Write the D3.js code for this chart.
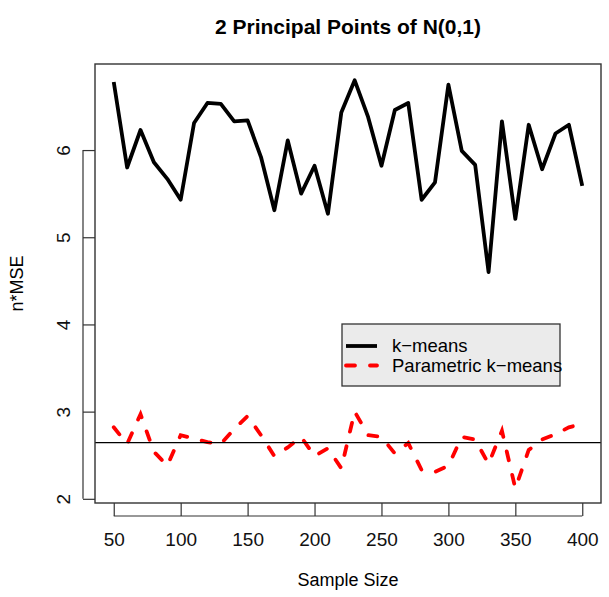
<!DOCTYPE html>
<html>
<head>
<meta charset="utf-8">
<script src="https://cdn.jsdelivr.net/npm/d3@7"></script>
<style>
	body { margin: 0; background: #fff; }
	text { font-family: "Liberation Sans", Arial, sans-serif; }
</style>
</head>
<body>
<svg id="chart" width="609" height="597"></svg>
<script>
// sample sizes 50..400
var sampleSizes = [50, 60, 70, 80, 90, 100, 110, 120, 130, 140, 150, 160, 170, 180, 190, 200, 210, 220,
	230, 240, 250, 260, 270, 280, 290, 300, 310, 320, 330, 340, 350, 360, 370, 380, 390, 400];

var kmeans = [6.78, 5.80, 6.23, 5.86, 5.67, 5.43, 6.31, 6.54, 6.53, 6.33, 6.34, 5.92, 5.31, 6.11, 5.50, 5.82, 5.27, 6.43,
	6.80, 6.38, 5.82, 6.46, 6.54, 5.43, 5.63, 6.75, 5.99, 5.83, 4.60, 6.33, 5.21, 6.29, 5.78, 6.19, 6.29, 5.59];

var paramKmeans = [2.82, 2.63, 2.97, 2.54, 2.38, 2.73, 2.69, 2.65, 2.63, 2.80, 2.95, 2.73, 2.49, 2.59, 2.71, 2.49, 2.58, 2.35,
	3.00, 2.73, 2.71, 2.52, 2.64, 2.33, 2.31, 2.38, 2.71, 2.68, 2.40, 2.78, 2.12, 2.56, 2.68, 2.74, 2.82, 2.86];

var refLine = 2.644;

var xTicks = [50, 100, 150, 200, 250, 300, 350, 400];
var yTicks = [2, 3, 4, 5, 6];

var legendLabels = ["k\u2212means", "Parametric k\u2212means"];

var svg = d3.select("#chart");

var plot = { left: 95, right: 601, top: 64, bottom: 503 };

// R style 4% padding on both ends
var x = d3.scaleLinear().domain([36, 414]).range([plot.left, plot.right]);
var y = d3.scaleLinear().domain([1.952, 6.987]).range([plot.bottom, plot.top]);

// title
svg.append("text")
	.attr("x", (plot.left + plot.right) / 2)
	.attr("y", 34)
	.attr("text-anchor", "middle")
	.attr("font-size", 21)
	.attr("font-weight", "bold")
	.text("2 Principal Points of N(0,1)");

// axes
var xAxis = svg.append("g")
	.attr("transform", "translate(0," + plot.bottom + ")")
	.call(d3.axisBottom(x).tickValues(xTicks).tickSize(13).tickPadding(17).tickSizeOuter(0));

var yAxis = svg.append("g")
	.attr("transform", "translate(" + plot.left + ",0)")
	.call(d3.axisLeft(y).tickValues(yTicks).tickFormat(d3.format("d")).tickSize(12).tickSizeOuter(0));

[xAxis, yAxis].forEach(function(a) {
	a.select(".domain").remove();
	a.selectAll("line").attr("stroke", "#333").attr("stroke-width", 1.2);
	a.selectAll("text").attr("font-size", 19).attr("fill", "#111")
		.attr("font-family", "Liberation Sans, Arial, sans-serif");
});

// R draws the axis line only between the outer ticks
xAxis.append("line")
	.attr("x1", x(xTicks[0])).attr("x2", x(xTicks[xTicks.length - 1]))
	.attr("y1", 13).attr("y2", 13)
	.attr("stroke", "#333").attr("stroke-width", 1.2);

yAxis.append("line")
	.attr("y1", y(yTicks[0])).attr("y2", y(yTicks[yTicks.length - 1]))
	.attr("x1", -12).attr("x2", -12)
	.attr("stroke", "#333").attr("stroke-width", 1.2);

yAxis.selectAll(".tick text")
	.attr("text-anchor", "middle")
	.attr("x", null)
	.attr("transform", "translate(-32,0) rotate(-90)")
	.attr("dy", "0.35em");

// axis titles
svg.append("text")
	.attr("x", (plot.left + plot.right) / 2)
	.attr("y", 586)
	.attr("text-anchor", "middle")
	.attr("font-size", 18)
	.text("Sample Size");

svg.append("text")
	.attr("transform", "translate(23," + ((plot.top + plot.bottom) / 2) + ") rotate(-90)")
	.attr("text-anchor", "middle")
	.attr("font-size", 18)
	.text("n*MSE");

// lines
var line = function(values) {
	return d3.line()
		.x(function(d, i) { return x(sampleSizes[i]); })
		.y(function(d) { return y(d); })(values);
};

svg.append("path")
	.attr("d", line(kmeans))
	.attr("fill", "none")
	.attr("stroke", "#000")
	.attr("stroke-width", 3.8)
	.attr("stroke-linejoin", "round");

svg.append("path")
	.attr("d", line(paramKmeans))
	.attr("fill", "none")
	.attr("stroke", "#ff0000")
	.attr("stroke-width", 3.8)
	.attr("stroke-linecap", "round")
	.attr("stroke-dasharray", "9,15");

// reference line
svg.append("line")
	.attr("x1", plot.left).attr("x2", plot.right)
	.attr("y1", y(refLine)).attr("y2", y(refLine))
	.attr("stroke", "#000").attr("stroke-width", 1.3);

// plot box
svg.append("rect")
	.attr("x", plot.left).attr("y", plot.top)
	.attr("width", plot.right - plot.left).attr("height", plot.bottom - plot.top)
	.attr("fill", "none").attr("stroke", "#333").attr("stroke-width", 1.4);

// legend
var legend = svg.append("g").attr("transform", "translate(342,324)");

legend.append("rect")
	.attr("width", 218).attr("height", 62)
	.attr("fill", "#ebebeb").attr("stroke", "#333").attr("stroke-width", 1.3);

var rows = legend.selectAll("g.row")
	.data(legendLabels)
	.enter().append("g")
	.attr("class", "row")
	.attr("transform", function(d, i) { return "translate(0," + (22 + i * 19.5) + ")"; });

rows.append("line")
	.attr("x1", 4).attr("x2", 35)
	.attr("stroke", function(d, i) { return i ? "#ff0000" : "#000"; })
	.attr("stroke-width", 3.8)
	.attr("stroke-linecap", function(d, i) { return i ? "round" : "butt"; })
	.attr("stroke-dasharray", function(d, i) { return i ? "9,15" : null; });

rows.append("text")
	.attr("x", 50)
	.attr("dy", "0.35em")
	.attr("font-size", 18.5)
	.text(function(d) { return d; });
</script>
</body>
</html>
